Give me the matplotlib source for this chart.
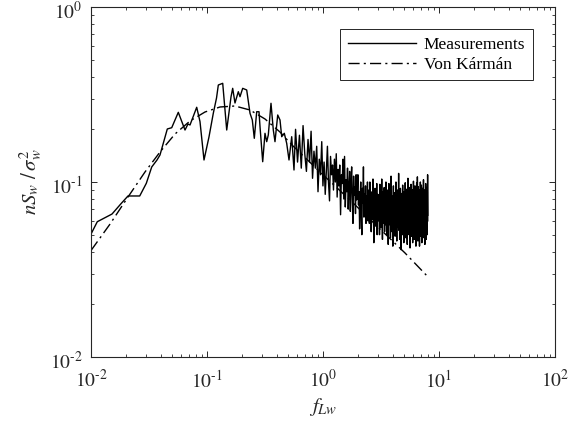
import numpy as np
import matplotlib
matplotlib.use("Agg")
import matplotlib.pyplot as plt
import matplotlib.transforms as mtransforms

plt.rcParams['font.family'] = ['Liberation Serif', 'DejaVu Serif']
plt.rcParams['mathtext.fontset'] = 'stix'

# Measurements, low-frequency part (read point by point)
meas_f_low = [0.01, 0.01133, 0.01517, 0.01825, 0.02084, 0.0263, 0.02998, 0.03337, 0.03707, 0.03934,
              0.04548, 0.04964, 0.05657, 0.06462, 0.06858, 0.07136, 0.07576, 0.08152, 0.08703, 0.09423,
              0.1040, 0.1133, 0.1208, 0.1252, 0.1366, 0.1479, 0.1610, 0.1665, 0.1743, 0.1862,
              0.1925, 0.2031, 0.2199, 0.2349, 0.2458, 0.2557, 0.2682, 0.2807, 0.2864, 0.3021,
              0.3162, 0.3271, 0.3376, 0.3562, 0.3729, 0.3856, 0.4070, 0.4259, 0.4406, 0.4638,
              0.4864, 0.5093, 0.5374, 0.5623]
meas_s_low = [0.0504, 0.0593, 0.0656, 0.0755, 0.0832, 0.0832, 0.0983, 0.1218, 0.1336, 0.1427,
              0.2009, 0.2043, 0.2501, 0.1982, 0.2145, 0.2117, 0.2351, 0.2673, 0.2212, 0.1336,
              0.1808, 0.2469, 0.302, 0.3583, 0.3664, 0.1982, 0.306, 0.343, 0.2828, 0.3281,
              0.3072, 0.343, 0.3356, 0.2469, 0.2261, 0.1777, 0.2521, 0.2521, 0.207, 0.1306,
              0.1898, 0.17, 0.1856, 0.2817, 0.1982, 0.17, 0.2415, 0.2261, 0.1815, 0.1898,
              0.1664, 0.1336, 0.1815, 0.1171]

# Measurements, dense high-frequency part (uniform frequency grid from 0.58 to 8.0)
meas_f_start = 0.58
meas_f_stop = 8.0
meas_s_high = [
    0.20, 0.13, 0.185, 0.12, 0.21, 0.145,
    0.115, 0.175, 0.13, 0.195, 0.105, 0.15,
    0.12, 0.16, 0.088, 0.135, 0.11, 0.17, 0.095,
    0.13, 0.085, 0.115, 0.16, 0.1, 0.078, 0.14, 0.11, 0.125,
    0.09, 0.135, 0.1, 0.145, 0.082, 0.118, 0.095, 0.125,
    0.065, 0.11, 0.098, 0.135, 0.08, 0.14, 0.072, 0.103, 0.088, 0.12, 0.07, 0.095, 0.115,
    0.068, 0.1, 0.122, 0.076, 0.058, 0.108, 0.084, 0.094, 0.066, 0.11, 0.079, 0.09,
    0.11, 0.074, 0.088, 0.054, 0.08, 0.1, 0.065, 0.05, 0.092, 0.076,
    0.122, 0.063, 0.085, 0.07, 0.095, 0.058, 0.083, 0.068, 0.1, 0.06, 0.074, 0.09,
    0.058, 0.1, 0.066, 0.08, 0.052, 0.072, 0.088, 0.061, 0.104, 0.07,
    0.045, 0.083, 0.064, 0.092, 0.056, 0.078, 0.067, 0.098, 0.05, 0.075, 0.085, 0.062,
    0.06, 0.075, 0.05, 0.097, 0.067, 0.082, 0.055, 0.07, 0.104, 0.062,
    0.047, 0.078, 0.088, 0.058, 0.072, 0.093, 0.052, 0.069, 0.081, 0.057, 0.1, 0.064,
    0.072, 0.05, 0.09, 0.061, 0.079, 0.044, 0.068, 0.098, 0.057, 0.075,
    0.063, 0.085, 0.048, 0.07, 0.108, 0.059, 0.066, 0.052, 0.083, 0.071,
    0.043, 0.077, 0.095, 0.06, 0.069, 0.054, 0.087, 0.064, 0.049, 0.081,
    0.073, 0.1, 0.058, 0.067, 0.046, 0.079, 0.062, 0.09, 0.055, 0.074,
    0.065, 0.112, 0.053, 0.07, 0.082, 0.047, 0.068, 0.06, 0.092, 0.057,
    0.076, 0.041, 0.066, 0.086, 0.058, 0.073, 0.05, 0.096, 0.063, 0.069,
    0.054, 0.08, 0.045, 0.071, 0.088, 0.061, 0.067, 0.052, 0.099, 0.059,
    0.074, 0.048, 0.083, 0.064, 0.057, 0.091, 0.068, 0.044, 0.078, 0.062,
    0.105, 0.055, 0.072, 0.06, 0.085, 0.05, 0.069, 0.093, 0.058, 0.076,
    0.042, 0.066, 0.081, 0.063, 0.054, 0.097, 0.07, 0.049, 0.087, 0.061,
    0.075, 0.056, 0.09, 0.045, 0.068, 0.079, 0.06, 0.101, 0.053, 0.072,
    0.064, 0.084, 0.047, 0.07, 0.058, 0.095, 0.062, 0.051, 0.08, 0.067,
    0.043, 0.088, 0.066, 0.056, 0.099, 0.06, 0.074, 0.05, 0.107,
    0.061, 0.083, 0.046, 0.072, 0.094, 0.058, 0.067, 0.052, 0.088, 0.064,
    0.078, 0.043, 0.07, 0.09, 0.056, 0.074, 0.1, 0.06, 0.049, 0.082,
    0.066, 0.057, 0.096, 0.063, 0.071, 0.045, 0.085, 0.059, 0.076, 0.053,
    0.092, 0.065, 0.048, 0.079, 0.062, 0.103, 0.055, 0.07, 0.083, 0.051,
    0.068, 0.09, 0.058, 0.075, 0.044, 0.087, 0.063, 0.071, 0.054, 0.098,
    0.06, 0.077, 0.047, 0.084, 0.066, 0.057, 0.093, 0.061, 0.073, 0.05,
    0.088, 0.064, 0.11, 0.06]

# Von Karman model curve
vk_f = [0.01, 0.01459, 0.02084, 0.02921, 0.03934, 0.05298, 0.07136, 0.0961, 0.1294, 0.1743,
        0.2349, 0.3162, 0.4259, 0.5405, 0.9421, 1.709, 3.100, 5.093, 7.834]
vk_s = [0.0406, 0.0575, 0.0821, 0.1141, 0.1484, 0.188, 0.2232, 0.2512, 0.2683, 0.2718,
        0.2578, 0.2291, 0.193, 0.1627, 0.1141, 0.0789, 0.0539, 0.0393, 0.0292]

x_ticks = [1e-2, 1e-1, 1e0, 1e1, 1e2]
x_ticklabels = [r'$10^{\text{-}2}$', r'$10^{\text{-}1}$', r'$10^{0}$', r'$10^{1}$', r'$10^{2}$']
y_ticks = [1e-2, 1e-1, 1e0]
y_ticklabels = [r'$10^{\text{-}2}$', r'$10^{\text{-}1}$', r'$10^{0}$']

meas_f = np.concatenate([meas_f_low, np.linspace(meas_f_start, meas_f_stop, len(meas_s_high))])
meas_s = np.concatenate([meas_s_low, meas_s_high])

fig = plt.figure(figsize=(5.74, 4.29), dpi=100)
ax = fig.add_axes([91/574, 1-357/429, 464/574, 350/429])

axc = '#262626'
ax.plot(meas_f, meas_s, color='black', lw=1.0, label='Measurements')
ax.plot(vk_f, vk_s, color='black', lw=1.0, linestyle=(0, (8, 3, 1.5, 3)), label='Von Kármán')

ax.set_xscale('log')
ax.set_yscale('log')
ax.set_xlim(1e-2, 1e2)
ax.set_ylim(1e-2, 1e0)
ax.set_xticks(x_ticks)
ax.set_xticklabels(x_ticklabels)
ax.set_yticks(y_ticks)
ax.set_yticklabels(y_ticklabels)

for s in ax.spines.values():
    s.set_color(axc)
    s.set_linewidth(0.8)
ax.tick_params(which='both', direction='in', top=True, right=True, colors=axc, labelsize=14)
ax.tick_params(which='major', length=4.2, width=0.7)
ax.tick_params(which='minor', length=2.5, width=0.6)
ax.tick_params(axis='x', pad=9)
ax.tick_params(axis='y', pad=6)

# nudge y tick labels slightly downward, as in the reference
offset = mtransforms.ScaledTranslation(0, -3/100, fig.dpi_scale_trans)
for lab in ax.get_yticklabels():
    lab.set_transform(lab.get_transform() + offset)

ax.set_xlabel(r'$f_{Lw}$', fontsize=15, color=axc, labelpad=3)
ax.set_ylabel(r'$nS_w\ /\,\sigma_w^2$', fontsize=15, color=axc, labelpad=4)

leg = ax.legend(loc='upper right', bbox_to_anchor=(1 - 22/464, 1 - 22/350), borderaxespad=0,
                fontsize=12.5, handlelength=3.9, frameon=True, fancybox=False, framealpha=1,
                borderpad=0.45, labelspacing=0.2, handletextpad=0.45)
leg.get_frame().set_edgecolor(axc)
leg.get_frame().set_linewidth(0.7)

fig.savefig('out.png', dpi=100)
